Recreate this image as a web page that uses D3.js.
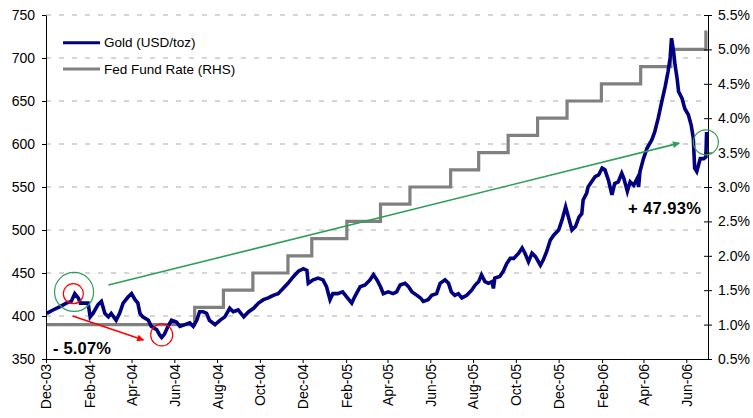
<!DOCTYPE html>
<html><head><meta charset="utf-8">
<script src="https://cdn.jsdelivr.net/npm/d3@7"></script>
<style>
html,body{margin:0;padding:0;background:#fff;}
svg{display:block;}
text{font-family:"Liberation Sans",Arial,sans-serif;}
</style></head>
<body><svg id="chart" width="753" height="418"></svg>
<script>
const goldDates = ["2003-12-02","2003-12-11","2003-12-21","2003-12-30","2004-01-06","2004-01-11","2004-01-16","2004-01-19","2004-01-23","2004-01-30","2004-02-02","2004-02-06","2004-02-13","2004-02-18","2004-02-23","2004-02-28","2004-03-03","2004-03-10","2004-03-15","2004-03-20","2004-03-27","2004-04-01","2004-04-06","2004-04-10","2004-04-13","2004-04-17","2004-04-25","2004-04-29","2004-05-07","2004-05-11","2004-05-14","2004-05-18","2004-05-23","2004-05-28","2004-06-04","2004-06-09","2004-06-16","2004-06-23","2004-06-28","2004-07-03","2004-07-07","2004-07-12","2004-07-17","2004-07-21","2004-07-29","2004-08-05","2004-08-12","2004-08-19","2004-08-24","2004-08-31","2004-09-08","2004-09-15","2004-09-22","2004-09-29","2004-10-06","2004-10-13","2004-10-20","2004-10-27","2004-11-03","2004-11-10","2004-11-18","2004-11-25","2004-12-02","2004-12-07","2004-12-09","2004-12-16","2004-12-23","2004-12-30","2005-01-04","2005-01-09","2005-01-13","2005-01-20","2005-01-27","2005-02-02","2005-02-09","2005-02-13","2005-02-21","2005-02-28","2005-03-07","2005-03-12","2005-03-17","2005-03-22","2005-03-26","2005-04-02","2005-04-09","2005-04-14","2005-04-19","2005-04-26","2005-05-01","2005-05-06","2005-05-13","2005-05-18","2005-05-22","2005-05-29","2005-06-03","2005-06-10","2005-06-15","2005-06-22","2005-06-27","2005-07-01","2005-07-06","2005-07-11","2005-07-16","2005-07-23","2005-07-30","2005-08-04","2005-08-09","2005-08-13","2005-08-18","2005-08-23","2005-08-28","2005-08-30","2005-09-01","2005-09-08","2005-09-13","2005-09-18","2005-09-23","2005-09-28","2005-10-05","2005-10-10","2005-10-14","2005-10-19","2005-10-24","2005-10-29","2005-11-05","2005-11-09","2005-11-14","2005-11-19","2005-11-24","2005-12-01","2005-12-06","2005-12-11","2005-12-15","2005-12-20","2005-12-25","2005-12-30","2006-01-03","2006-01-05","2006-01-10","2006-01-12","2006-01-17","2006-01-22","2006-01-27","2006-02-01","2006-02-05","2006-02-10","2006-02-15","2006-02-19","2006-02-24","2006-03-01","2006-03-04","2006-03-09","2006-03-13","2006-03-18","2006-03-23","2006-03-25","2006-03-27","2006-04-01","2006-04-06","2006-04-13","2006-04-17","2006-04-22","2006-04-27","2006-05-02","2006-05-06","2006-05-09","2006-05-11","2006-05-14","2006-05-16","2006-05-19","2006-05-21","2006-05-26","2006-05-30","2006-06-04","2006-06-08","2006-06-11","2006-06-13","2006-06-16","2006-06-21","2006-06-26","2006-06-29","2006-06-30"];
const goldPrices = [403,407,411,415,417,426,421,415,415,415,399,403,413,417,403,399,403,395,403,415,422,426,419,415,403,399,395,388,384,378,375,379,388,395,393,388,390,392,388,395,405,405,403,395,390,395,399,409,405,407,399,405,409,415,419,421,424,426,432,438,446,452,455,453,438,442,444,442,434,419,426,426,428,422,415,422,434,436,442,448,442,434,426,428,426,428,436,438,434,428,424,421,417,419,424,426,438,442,438,428,424,426,421,424,430,436,440,448,440,438,440,432,444,446,452,461,467,467,473,479,473,463,473,469,459,465,475,488,494,500,512,527,515,500,504,515,519,535,543,550,556,562,564,572,570,558,541,554,556,566,560,545,556,552,560,550,568,583,595,605,614,630,649,667,684,700,723,707,692,676,661,653,641,634,622,607,572,568,583,583,585,614];
const fedDates = ["2003-12-01","2004-06-30","2004-08-10","2004-09-21","2004-11-10","2004-12-14","2005-02-02","2005-03-22","2005-05-03","2005-06-30","2005-08-09","2005-09-20","2005-11-01","2005-12-13","2006-01-31","2006-03-28","2006-05-10","2006-06-29","2006-07-01"];
const fedRates = [1.00,1.25,1.50,1.75,2.00,2.25,2.50,2.75,3.00,3.25,3.50,3.75,4.00,4.25,4.50,4.75,5.00,5.25,5.25];
const leftTicks = [350,400,450,500,550,600,650,700,750];
const rightTicks = [0.5,1.0,1.5,2.0,2.5,3.0,3.5,4.0,4.5,5.0,5.5];
const xTickLabels = ["Dec-03","Feb-04","Apr-04","Jun-04","Aug-04","Oct-04","Dec-04","Feb-05","Apr-05","Jun-05","Aug-05","Oct-05","Dec-05","Feb-06","Apr-06","Jun-06"];
const seriesNames = ["Gold (USD/toz)","Fed Fund Rate (RHS)"];
const annotationLabels = ["- 5.07%","+ 47.93%"];

const parse = d3.timeParse("%Y-%m-%d");
const parseTick = d3.timeParse("%b-%y");
const svg = d3.select("#chart");

const x = d3.scaleTime().domain([parse("2003-12-01"), parse("2006-07-02")]).range([46, 708]);
const yL = d3.scaleLinear().domain([350, 750]).range([359, 15]);
const yR = d3.scaleLinear().domain([0.5, 5.5]).range([359, 15]);

// gridlines
svg.append("g").selectAll("line").data(leftTicks.slice(1)).join("line")
  .attr("x1", 46).attr("x2", 708)
  .attr("y1", d => yL(d)).attr("y2", d => yL(d))
  .attr("stroke", "#c8c8c8").attr("stroke-width", 1.3)
  .attr("stroke-dasharray", "5,8");

// Fed line
const fedData = fedDates.map((d, i) => ({date: parse(d), v: fedRates[i]}));
svg.append("path").datum(fedData)
  .attr("d", d3.line().x(d => x(d.date)).y(d => yR(d.v)).curve(d3.curveStepAfter))
  .attr("fill", "none").attr("stroke", "#808080").attr("stroke-width", 3.2);

// Gold line
const goldData = goldDates.map((d, i) => ({date: parse(d), v: goldPrices[i]}));
svg.append("path").datum(goldData)
  .attr("d", d3.line().x(d => x(d.date)).y(d => yL(d.v)))
  .attr("fill", "none").attr("stroke", "#000080").attr("stroke-width", 3.6)
  .attr("stroke-linejoin", "miter");

// axes
const axL = svg.append("g").attr("transform", "translate(46,0)")
  .call(d3.axisLeft(yL).tickValues(leftTicks).tickSize(4).tickSizeOuter(0).tickPadding(7));
const axR = svg.append("g").attr("transform", "translate(708,0)")
  .call(d3.axisRight(yR).tickValues(rightTicks).tickFormat(d => d.toFixed(1) + "%").tickSize(4).tickSizeOuter(0).tickPadding(6));
axR.selectAll(".tick line").attr("x1", -4);
const axB = svg.append("g").attr("transform", "translate(0,359)")
  .call(d3.axisBottom(x).tickValues(xTickLabels.map(parseTick)).tickFormat(d3.timeFormat("%b-%y")).tickSize(4).tickSizeOuter(0));
axB.selectAll("text").attr("transform", "rotate(-90)").attr("text-anchor", "end")
  .attr("x", -5).attr("y", 0).attr("dy", "0.35em");
[axL, axR, axB].forEach(a => {
  a.selectAll("text").attr("font-size", 14).attr("fill", "#000").attr("font-family", "'Liberation Sans',Arial,sans-serif");
  a.selectAll("line,path").attr("stroke", "#000");
});

// legend
const leg = svg.append("g");
[["#000080", 42.7], ["#808080", 69]].forEach((c, i) => {
  leg.append("line").attr("x1", 63).attr("x2", 100).attr("y1", c[1]).attr("y2", c[1])
    .attr("stroke", c[0]).attr("stroke-width", 3);
  leg.append("text").attr("x", 104).attr("y", c[1] + 4.6).attr("font-size", 13.5).text(seriesNames[i]);
});

// annotations
const defs = svg.append("defs");
[["arrRed", "#ff0000"], ["arrGreen", "#2e9e5a"]].forEach(a => {
  defs.append("marker").attr("id", a[0]).attr("viewBox", "0 0 10 10").attr("refX", 9).attr("refY", 5)
    .attr("markerWidth", 9).attr("markerHeight", 7).attr("markerUnits", "userSpaceOnUse").attr("orient", "auto")
    .append("path").attr("d", "M0,0 L10,5 L0,10 z").attr("fill", a[1]);
});
const ann = svg.append("g");
ann.append("circle").attr("cx", x(parse("2004-01-10"))).attr("cy", yL(428)).attr("r", 19.5)
  .attr("fill", "none").attr("stroke", "#2e9e5a").attr("stroke-width", 1.2);
ann.append("circle").attr("cx", x(parse("2004-01-09"))).attr("cy", yL(426)).attr("r", 10)
  .attr("fill", "none").attr("stroke", "#ff0000").attr("stroke-width", 1.2);
ann.append("circle").attr("cx", x(parse("2004-05-14"))).attr("cy", yL(378)).attr("r", 11)
  .attr("fill", "none").attr("stroke", "#ff0000").attr("stroke-width", 1.2);
ann.append("circle").attr("cx", x(parse("2006-06-29"))).attr("cy", yL(602)).attr("r", 12.5)
  .attr("fill", "none").attr("stroke", "#2e9e5a").attr("stroke-width", 1.2);
ann.append("line").attr("x1", x(parse("2004-01-08"))).attr("y1", yL(400))
  .attr("x2", x(parse("2004-04-18"))).attr("y2", yL(372))
  .attr("stroke", "#ff0000").attr("stroke-width", 1.6).attr("marker-end", "url(#arrRed)");
ann.append("line").attr("x1", x(parse("2004-02-28"))).attr("y1", yL(436))
  .attr("x2", x(parse("2006-05-22"))).attr("y2", yL(601))
  .attr("stroke", "#2e9e5a").attr("stroke-width", 1.6).attr("marker-end", "url(#arrGreen)");
ann.append("text").attr("x", 53).attr("y", 354).attr("font-family", "'DejaVu Sans',Verdana,sans-serif")
  .attr("font-weight", "bold").attr("font-size", 16.5).attr("textLength", 58).text(annotationLabels[0]);
ann.append("text").attr("x", 628).attr("y", 214).attr("font-family", "'DejaVu Sans',Verdana,sans-serif")
  .attr("font-weight", "bold").attr("font-size", 16.5).attr("textLength", 73).text(annotationLabels[1]);
</script></body></html>
